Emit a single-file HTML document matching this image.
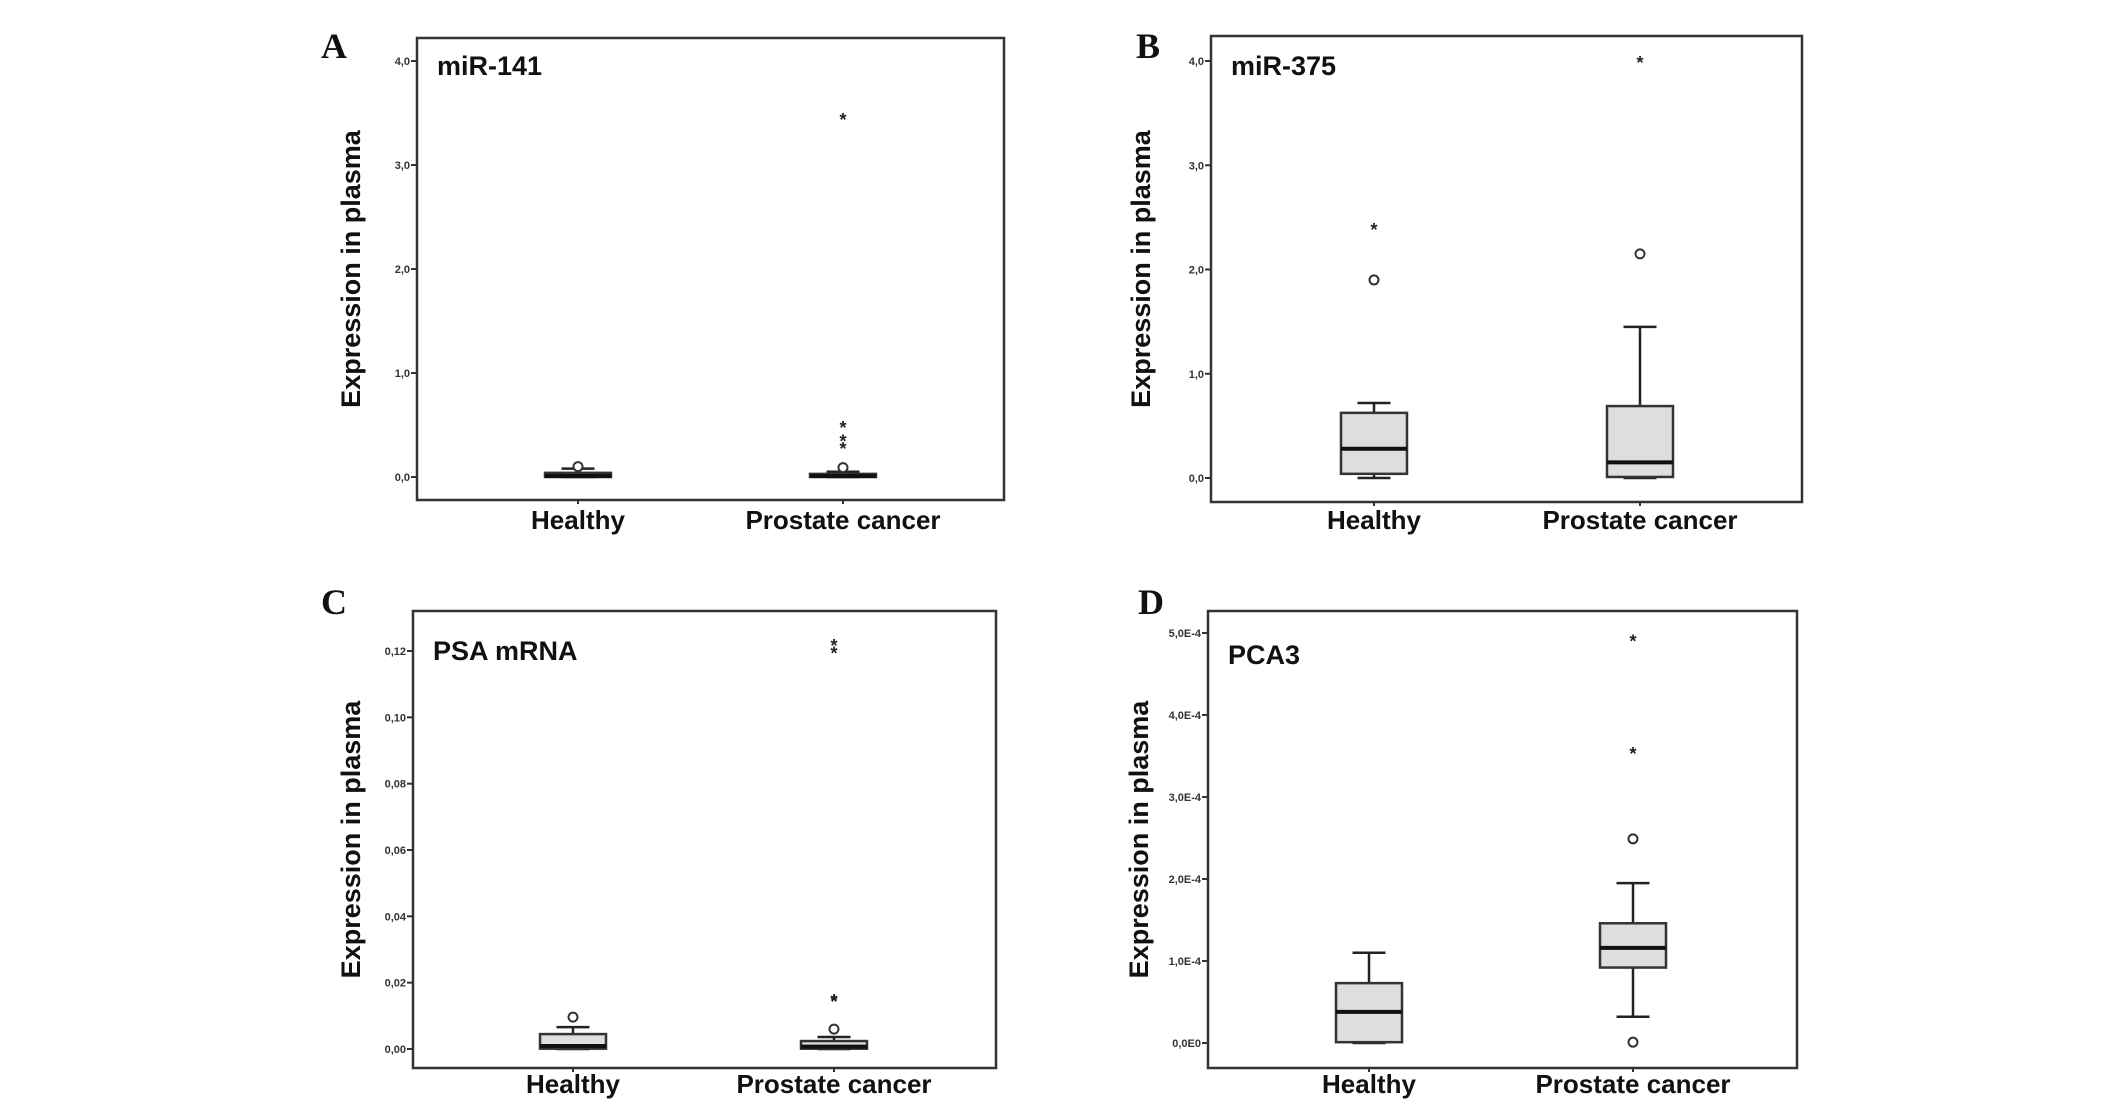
<!DOCTYPE html>
<html><head><meta charset="utf-8"><style>
html,body{margin:0;padding:0;background:#fff;}
svg{display:block;}
text{font-family:"Liberation Sans",sans-serif;}
text.serif{font-family:"Liberation Serif",serif;}
</style></head><body>
<svg id="fig" width="2126" height="1113" viewBox="0 0 2126 1113" xmlns="http://www.w3.org/2000/svg"></svg>
<script>
// ---- data ----
const categories = ["Healthy", "Prostate cancer"];
const panelTitles = ["miR-141", "miR-375", "PSA mRNA", "PCA3"];
const panelLetters = ["A", "B", "C", "D"];
const tickLabelsA = ["0,0","1,0","2,0","3,0","4,0"];
const tickValuesA = [0,1,2,3,4];
const tickLabelsB = ["0,0","1,0","2,0","3,0","4,0"];
const tickValuesB = [0,1,2,3,4];
const tickLabelsC = ["0,00","0,02","0,04","0,06","0,08","0,10","0,12"];
const tickValuesC = [0,0.02,0.04,0.06,0.08,0.10,0.12];
const tickLabelsD = ["0,0E0","1,0E-4","2,0E-4","3,0E-4","4,0E-4","5,0E-4"];
const tickValuesD = [0,1,2,3,4,5]; // units of 1e-4
// box stats: [whiskerLow, q1, median, q3, whiskerHigh]
const boxA = [[0.0,0.0,0.01,0.04,0.08],[0.0,0.0,0.01,0.03,0.05]];
const circlesA = [[0.10],[0.09]];
const starsA = [[],[0.29,0.36,0.49,3.45]];
const boxB = [[0.0,0.04,0.28,0.625,0.72],[0.0,0.01,0.15,0.69,1.45]];
const circlesB = [[1.9],[2.15]];
const starsB = [[2.4],[4.0]];
const boxC = [[0.0,0.0001,0.0009,0.0045,0.0066],[0.0,0.0001,0.0007,0.0024,0.0036]];
const circlesC = [[0.0096],[0.0060]];
const starsC = [[],[0.0147,0.0151,0.1198,0.1221]];
const boxD = [[0.0,0.01,0.38,0.73,1.10],[0.32,0.92,1.16,1.46,1.95]];
const circlesD = [[],[0.01,2.49]];
const starsD = [[],[3.55,4.92]];

const svg = document.getElementById('fig');
const NS = 'http://www.w3.org/2000/svg';
function mk(tag, attrs, parent){
  const e = document.createElementNS(NS, tag);
  for (const k in attrs) e.setAttribute(k, attrs[k]);
  (parent||svg).appendChild(e);
  return e;
}

const layouts = [
  {x0:417,x1:1004,y0:38,y1:500,tv0:477,tv1:61,vmax:4,vmin:0,catX:[578,843],labY:529,letX:334,letY:58,ttlY:75,ytX:351,
   ticks:tickValuesA,labels:tickLabelsA,box:boxA,circ:circlesA,star:starsA},
  {x0:1211,x1:1802,y0:36,y1:502,tv0:478,tv1:61,vmax:4,vmin:0,catX:[1374,1640],labY:529,letX:1148,letY:58,ttlY:75,ytX:1141,
   ticks:tickValuesB,labels:tickLabelsB,box:boxB,circ:circlesB,star:starsB},
  {x0:413,x1:996,y0:611,y1:1068,tv0:1049,tv1:651,vmax:0.12,vmin:0,catX:[573,834],labY:1093,letX:334,letY:614,ttlY:660,ytX:351,
   ticks:tickValuesC,labels:tickLabelsC,box:boxC,circ:circlesC,star:starsC},
  {x0:1208,x1:1797,y0:611,y1:1068,tv0:1043,tv1:633,vmax:5,vmin:0,catX:[1369,1633],labY:1093,letX:1151,letY:614,ttlY:664,ytX:1139,
   ticks:tickValuesD,labels:tickLabelsD,box:boxD,circ:circlesD,star:starsD}
];

layouts.forEach((L, p) => {
  const g = mk('g', {});
  
  
  const y = v => L.tv0 + (v - L.vmin) / (L.vmax - L.vmin) * (L.tv1 - L.tv0);

  const letter = mk('text', {x:L.letX, y:L.letY, class:'serif', 'font-weight':'bold','font-size':36,'text-anchor':'middle',fill:'#111'}, g);
  letter.textContent = panelLetters[p];
  
  

  const frame = mk('rect', {x:L.x0, y:L.y0, width:L.x1-L.x0, height:L.y1-L.y0, fill:'#fff', stroke:'#333', 'stroke-width':2.5}, g);
  
  

  const ttl = mk('text', {x:L.x0+20, y:L.ttlY, 'font-weight':'bold','font-size':27,fill:'#111'}, g);
  ttl.textContent = panelTitles[p];
  
  

  const yt = mk('text', {x:L.ytX, y:(L.y0+L.y1)/2, 'font-weight':'bold','font-size':27,'text-anchor':'middle',fill:'#111',
     transform:`rotate(-90 ${L.ytX} ${(L.y0+L.y1)/2})`, dy:9}, g);
  yt.textContent = 'Expression in plasma';
  
  

  L.ticks.forEach((tv, i) => {
    const ty = y(tv);
    const tl = mk('line', {x1:L.x0-6, x2:L.x0, y1:ty, y2:ty, stroke:'#333','stroke-width':2}, g);
    
    
    const tt = mk('text', {x:L.x0-7, y:ty+4, 'font-size':11,'font-weight':'bold','text-anchor':'end',fill:'#333'}, g);
    tt.textContent = L.labels[i];
    
    
  });

  categories.forEach((c, ci) => {
    const cx = L.catX[ci];
    const xt = mk('line', {x1:cx, x2:cx, y1:L.y1, y2:L.y1+4, stroke:'#333','stroke-width':2}, g);
    
    
    const lab = mk('text', {x:cx, y:L.labY, 'font-weight':'bold','font-size':26,'text-anchor':'middle',fill:'#111'}, g);
    lab.textContent = c;
    
    

    const b = L.box[ci];
    const bw = 66, cw = 33;
    const wl = mk('line', {x1:cx,x2:cx,y1:y(b[0]),y2:y(b[1]),stroke:'#222','stroke-width':2.5}, g);
    
    
    const wh = mk('line', {x1:cx,x2:cx,y1:y(b[3]),y2:y(b[4]),stroke:'#222','stroke-width':2.5}, g);
    
    
    const cl = mk('line', {x1:cx-cw/2,x2:cx+cw/2,y1:y(b[0]),y2:y(b[0]),stroke:'#222','stroke-width':2.5}, g);
    
    
    const ch = mk('line', {x1:cx-cw/2,x2:cx+cw/2,y1:y(b[4]),y2:y(b[4]),stroke:'#222','stroke-width':2.5}, g);
    
    
    const h = Math.max(y(b[1]) - y(b[3]), 3);
    const bx = mk('rect', {x:cx-bw/2, y:y(b[3]), width:bw, height:h, fill:'#dedede', stroke:'#333','stroke-width':2.5}, g);
    
    
    const md = mk('line', {x1:cx-bw/2,x2:cx+bw/2,y1:y(b[2]),y2:y(b[2]),stroke:'#111','stroke-width':4}, g);
    
    

    L.circ[ci].forEach(v => {
      const o = mk('circle', {cx:cx, cy:y(v), r:4.5, fill:'#fff', stroke:'#333','stroke-width':2}, g);
      
      
    });
    L.star[ci].forEach(v => {
      const s = mk('text', {x:cx, y:y(v)+8, 'font-size':18,'font-weight':'bold','text-anchor':'middle',fill:'#222'}, g);
      s.textContent = '*';
      
      
    });
  });
});
</script>
</body></html>
